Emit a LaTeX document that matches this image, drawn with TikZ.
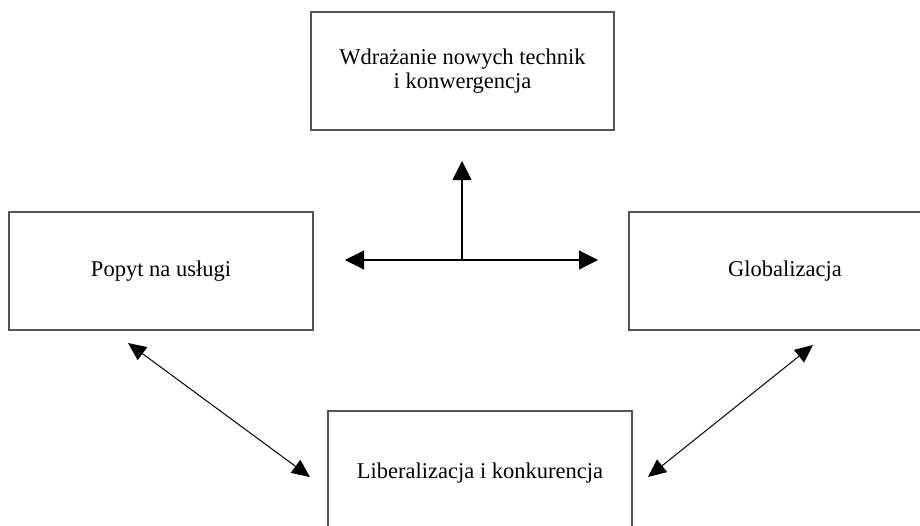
\documentclass[tikz,border=0pt]{standalone}
\usepackage{fontspec}
\setmainfont{Liberation Serif}
\usetikzlibrary{arrows.meta}
\tikzset{
  blok/.style={draw={rgb,255:red,85;green,85;blue,85}, line width=1.3pt, inner sep=0pt, align=center, font=\fontsize{22.5}{24.5}\selectfont},
  grot/.style={Triangle[length=19pt,width=19pt]},
  strzalka/.style={line width=1.1pt, {Triangle[length=19pt,width=19pt]}-{Triangle[length=19pt,width=19pt]}},
  ukos/.style={line width=1pt, {Triangle[length=18pt,width=16pt]}-{Triangle[length=18pt,width=16pt]}}
}
\begin{document}
\begin{tikzpicture}[x=1pt,y=1pt,yscale=-1,xscale=1]
            \useasboundingbox (0,0) rectangle (920,525);
            \clip (0,0) rectangle (920,525);
            %Shape: Rectangle [id:wdrazanie]
            \node [blok, minimum width=303pt, minimum height=118pt] (wdrazanie) at (462.5,71) {Wdrażanie nowych technik\\i konwergencja};
            %Shape: Rectangle [id:popyt]
            \node [blok, minimum width=304pt, minimum height=118pt] (popyt) at (161,271) {Popyt na usługi};
            %Shape: Rectangle [id:global]
            \node [blok, minimum width=312pt, minimum height=118pt] (global) at (785,271) {Globalizacja};
            %Shape: Rectangle [id:liberal]
            \node [blok, minimum width=304pt, minimum height=124pt] (liberal) at (480,473) {Liberalizacja i konkurencja};

            % Arrow ends
            \coordinate (lewo) at (345,260);
            \coordinate (prawo) at (598,260);
            \coordinate (srodek) at (462,260);
            \coordinate (gora) at (462,161);
            \coordinate (popytA) at (128,343);
            \coordinate (liberalA) at (310,477);
            \coordinate (liberalB) at (648,477);
            \coordinate (globalA) at (813,345);

            %Straight Lines [id:poziom]
            \draw [strzalka] (lewo) -- (prawo);
            %Straight Lines [id:pion]
            \draw [line width=1.1pt, -{Triangle[length=19pt,width=19pt]}] (srodek) -- (gora);
            %Straight Lines [id:lewy]
            \draw [ukos] (popytA) -- (liberalA);
            %Straight Lines [id:prawy]
            \draw [ukos] (liberalB) -- (globalA);
\end{tikzpicture}
\end{document}
